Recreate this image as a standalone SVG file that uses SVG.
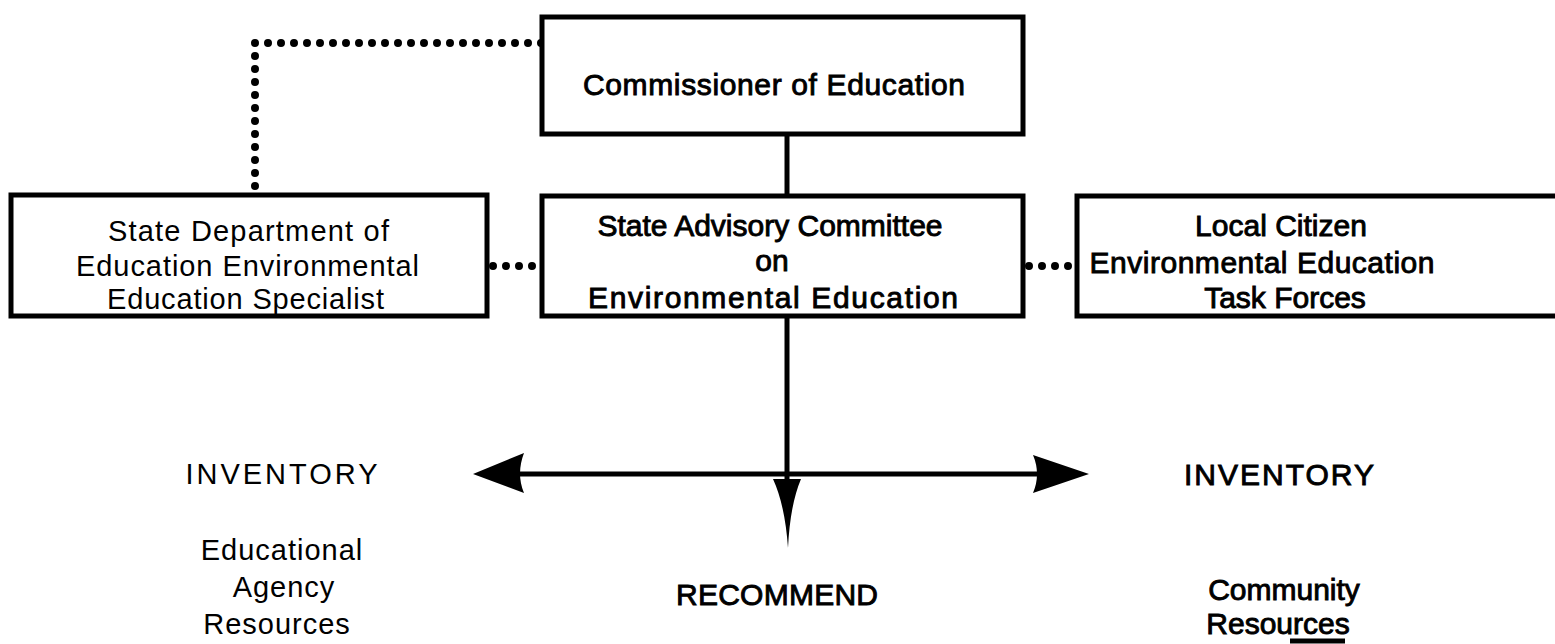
<svg xmlns="http://www.w3.org/2000/svg" width="1555" height="644" viewBox="0 0 1555 644">
<style>
.box{fill:#fff;stroke:#000;stroke-width:5}
.t{font-family:"Liberation Sans",Arial,sans-serif;font-size:30px;fill:#000;text-anchor:middle}
.b{stroke:#000;stroke-width:0.9}
.l{font-size:29px;letter-spacing:1px}
.dot{fill:none;stroke:#000;stroke-width:8;stroke-linecap:round;stroke-dasharray:0 13}
.ln{fill:none;stroke:#000;stroke-width:5}
</style>
<rect width="1555" height="644" fill="#fff"/>
<g id="connectors">
<path class="dot" d="M541,43 H255 V194"/>
<path class="dot" d="M493,266 H535"/>
<path class="dot" d="M1029,266 H1071"/>
<path class="ln" d="M787,134 V196"/>
<path class="ln" d="M787,316 V490"/>
<path class="ln" d="M500,474 H1065"/>
<path d="M473,474 L524,453 Q516,474 524,493 Z" fill="#000"/>
<path d="M1089,474 L1033,455 Q1041,474 1033,493 Z" fill="#000"/>
<path d="M773,479 L801,479 Q790,505 788,548 Q785,505 773,479 Z" fill="#000"/>
</g>
<g id="commissioner">
<rect class="box" x="542" y="17" width="481" height="117"/>
<text class="t b" x="774" y="95" textLength="382">Commissioner of Education</text>
</g>
<g id="state-dept">
<rect class="box" x="11" y="195" width="476" height="121"/>
<text class="t l" x="249" y="241" textLength="282">State Department of</text>
<text class="t l" x="248" y="276" textLength="344">Education Environmental</text>
<text class="t l" x="246" y="309" textLength="278">Education Specialist</text>
</g>
<g id="advisory">
<rect class="box" x="542" y="196" width="481" height="120"/>
<text class="t b" x="770" y="236">State Advisory Committee</text>
<text class="t b" x="772" y="271">on</text>
<text class="t b" x="773" y="308" textLength="370">Environmental Education</text>
</g>
<g id="local">
<rect class="box" x="1077" y="196" width="490" height="120"/>
<text class="t b" x="1281" y="236">Local Citizen</text>
<text class="t b" x="1262" y="273" textLength="345">Environmental Education</text>
<text class="t b" x="1285" y="308">Task Forces</text>
</g>
<g id="inventory-left">
<text class="t l" x="283" y="484" style="letter-spacing:3px">INVENTORY</text>
<text class="t l" x="282" y="560">Educational</text>
<text class="t l" x="284" y="597">Agency</text>
<text class="t l" x="277" y="634">Resources</text>
</g>
<g id="recommend">
<text class="t b" x="777" y="605" textLength="202">RECOMMEND</text>
</g>
<g id="inventory-right">
<text class="t b" x="1280" y="485" letter-spacing="2">INVENTORY</text>
<text class="t b" x="1284" y="600">Community</text>
<text class="t b" x="1278" y="634">Resources</text>
<path class="ln" d="M1290,641 H1345" stroke-width="3"/>
</g>
</svg>
